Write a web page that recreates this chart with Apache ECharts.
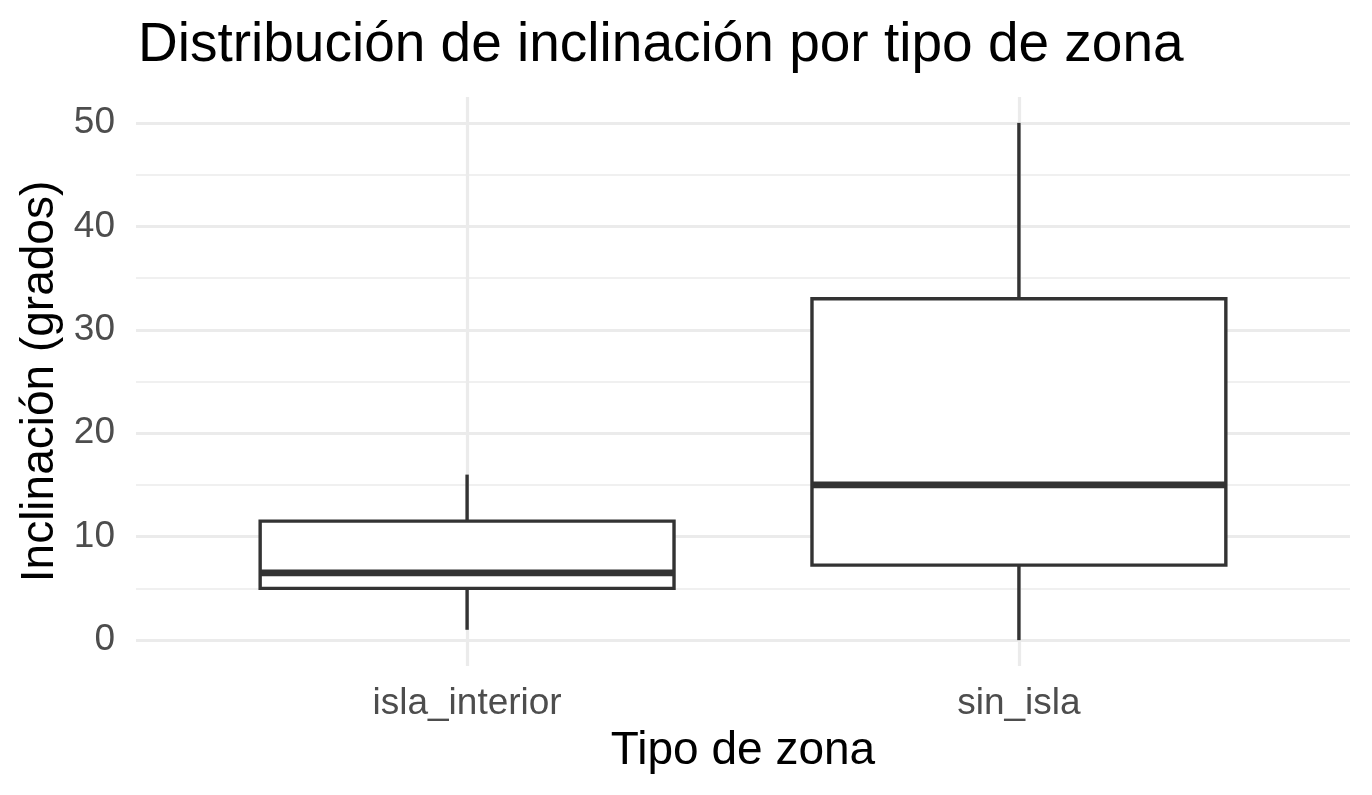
<!DOCTYPE html>
<html><head><meta charset="utf-8">
<script src="https://cdn.jsdelivr.net/npm/echarts@6/dist/echarts.min.js"></script>
<style>html,body{margin:0;padding:0;background:#fff}#c{width:1372px;height:795px}</style>
</head><body><div id="c"></div>
<script>
// ---- data ----
const categories = ['isla_interior', 'sin_isla'];
const whiskerLow = [1, 0];
const q1 = [5, 7.25];
const median = [6.5, 15];
const q3 = [11.5, 33];
const whiskerHigh = [16, 50];
const yMajorTicks = [0, 10, 20, 30, 40, 50];
const yMinorTicks = [5, 15, 25, 35, 45];
const titleText = 'Distribución de inclinación por tipo de zona';
const xTitle = 'Tipo de zona';
const yTitle = 'Inclinación (grados)';

const positions = categories.map((c, i) => i + 1);
const boxData = categories.map((c, i) => [positions[i], whiskerLow[i], q1[i], median[i], q3[i], whiskerHigh[i]]);

const FONT = '"Liberation Sans", Arial, sans-serif';
const INK = '#333333';
const GRID = '#ebebeb';

const chart = echarts.init(document.getElementById('c'), null, {renderer: 'canvas'});
chart.setOption({
  animation: false,
  backgroundColor: '#ffffff',
  title: {
    text: titleText, left: 133, top: 13,
    textStyle: {fontFamily: FONT, fontSize: 55, fontWeight: 'normal', color: '#000'}
  },
  grid: {left: 136, right: 22, top: 97, bottom: 129, containLabel: false},
  xAxis: {
    type: 'value', min: 0.4, max: 2.6,
    name: xTitle, nameLocation: 'middle', nameGap: 62,
    nameTextStyle: {fontFamily: FONT, fontSize: 46, color: '#000'},
    axisLine: {show: false},
    axisTick: {show: false, customValues: positions},
    axisLabel: {
      customValues: positions, margin: 19,
      fontFamily: FONT, fontSize: 37, color: '#4d4d4d',
      formatter: v => categories[Math.round(v) - 1] || ''
    },
    splitLine: {show: true, lineStyle: {color: GRID, width: 3.2}}
  },
  yAxis: [{
    type: 'value', min: -2.5, max: 52.5,
    name: yTitle, nameLocation: 'middle', nameGap: 72, nameRotate: 90,
    nameTextStyle: {fontFamily: FONT, fontSize: 46, color: '#000'},
    axisLine: {show: false},
    axisTick: {show: false, customValues: yMajorTicks},
    axisLabel: {customValues: yMajorTicks, margin: 21, fontFamily: FONT, fontSize: 37, color: '#4d4d4d'},
    splitLine: {show: true, lineStyle: {color: GRID, width: 3.2}}
  }, {
    type: 'value', min: -2.5, max: 52.5, position: 'left',
    axisLine: {show: false},
    axisTick: {show: false, customValues: yMinorTicks},
    axisLabel: {show: false, customValues: yMinorTicks},
    splitLine: {show: true, lineStyle: {color: GRID, width: 1.6}}
  }],
  series: [{
    type: 'custom',
    xAxisIndex: 0, yAxisIndex: 0,
    data: boxData,
    encode: {x: 0, y: [1, 2, 3, 4, 5]},
    z: 5,
    renderItem: function (params, api) {
      const x = api.value(0);
      const pLow = api.coord([x, api.value(1)]);
      const pQ1 = api.coord([x, api.value(2)]);
      const pMed = api.coord([x, api.value(3)]);
      const pQ3 = api.coord([x, api.value(4)]);
      const pHigh = api.coord([x, api.value(5)]);
      const w = api.size([0.75, 0])[0];
      const left = pQ1[0] - w / 2;
      const ls = {stroke: INK, lineWidth: 3.4, lineCap: 'butt'};
      return {
        type: 'group',
        children: [
          {type: 'line', shape: {x1: pLow[0], y1: pLow[1], x2: pQ1[0], y2: pQ1[1]}, style: ls},
          {type: 'line', shape: {x1: pQ3[0], y1: pQ3[1], x2: pHigh[0], y2: pHigh[1]}, style: ls},
          {type: 'rect', shape: {x: left, y: pQ3[1], width: w, height: pQ1[1] - pQ3[1]},
            style: {fill: '#ffffff', stroke: INK, lineWidth: 3.4}},
          {type: 'line', shape: {x1: left, y1: pMed[1], x2: left + w, y2: pMed[1]},
            style: {stroke: INK, lineWidth: 6.8, lineCap: 'butt'}}
        ]
      };
    }
  }]
});
</script>
</body></html>
